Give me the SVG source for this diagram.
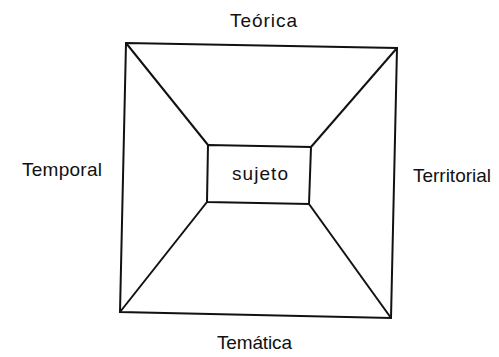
<svg xmlns="http://www.w3.org/2000/svg" width="499" height="357" viewBox="0 0 499 357">
<style>
.ln{fill:none;stroke:#111;stroke-width:2;stroke-linejoin:miter}
.lb{font-family:"Liberation Sans",Arial,sans-serif;font-size:19px;fill:#111}
</style>
<rect width="499" height="357" fill="#fff"/>
<g id="connectors">
<line class="ln" x1="126" y1="43" x2="208" y2="145"/>
<line class="ln" x1="397" y1="48" x2="311" y2="147"/>
<line class="ln" x1="391" y1="318" x2="309" y2="204"/>
<line class="ln" x1="120" y1="312" x2="207" y2="202"/>
</g>
<g id="outer">
<polygon class="ln" points="126,43 397,48 391,318 120,312"/>
</g>
<g id="sujeto">
<polygon class="ln" points="208,145 311,147 309,204 207,202"/>
<text class="lb" x="232" y="180" font-size="20" textLength="56" lengthAdjust="spacing">sujeto</text>
</g>
<g id="teorica"><text class="lb" x="230" y="27" textLength="67" lengthAdjust="spacing">Teórica</text></g>
<g id="temporal"><text class="lb" x="22" y="176" textLength="80" lengthAdjust="spacing">Temporal</text></g>
<g id="territorial"><text class="lb" x="413" y="182" textLength="78" lengthAdjust="spacing">Territorial</text></g>
<g id="tematica"><text class="lb" x="217" y="349" textLength="75" lengthAdjust="spacing">Temática</text></g>
</svg>
